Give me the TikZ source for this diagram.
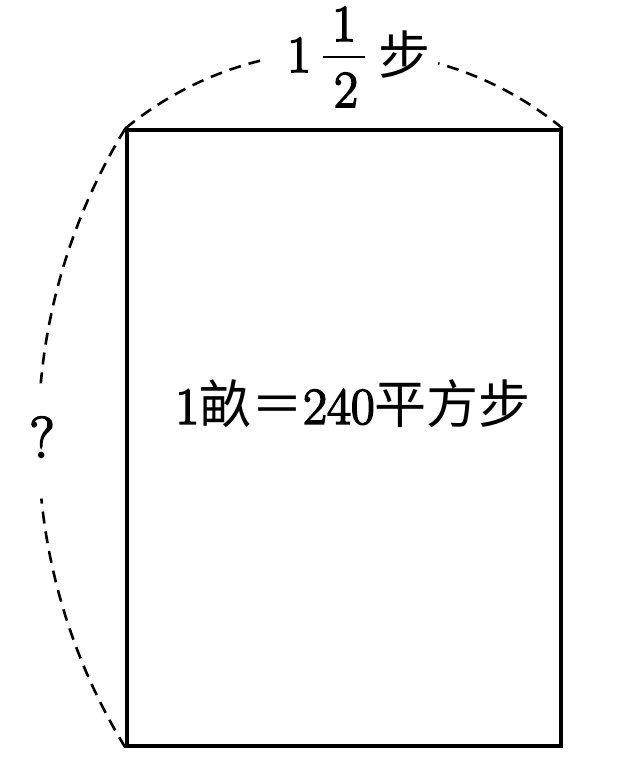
\documentclass[tikz,border=0pt]{standalone}
\usepackage{fontspec}
\newfontfamily\cjk{Noto Sans CJK TC}
\newfontfamily\heavy{Latin Modern Roman}[FakeBold=3]
\tikzset{
  box/.style={draw, line width=3.2pt, inner sep=0pt, minimum width=434pt, minimum height=616pt},
  dimarc/.style={line width=2.6pt, dash pattern=on 12pt off 8pt},
  big/.style={font=\fontsize{52}{60}\selectfont\heavy, inner sep=0pt}
}
\begin{document}
\begin{tikzpicture}[x=1pt,y=1pt]
\useasboundingbox (0,0) rectangle (623,772);
\node[box] (rect) at (344,334) {};
\node[big] (area) at (353,368) {1{\cjk 畝＝}240{\cjk 平方步}};
\node[big, anchor=base] (whole) at (299,700) {1};
\node[big, anchor=base] (num) at (344,731) {1};
\node[big, anchor=base] (den) at (346,665) {2};
\node[big] (bu) at (404.5,717) {\cjk 步};
\coordinate (barL) at (323,715);
\coordinate (barR) at (365,715);
\draw[line width=2.6pt] (barL) -- (barR);
\node[font=\fontsize{58}{64}\selectfont\heavy, inner sep=0pt] (q) at (42,335) {?};
\draw[dimarc] (rect.north west) arc[start angle=129.4, end angle=102.6, radius=342];
\draw[dimarc] (rect.north east) arc[start angle=50.6, end angle=74.3, radius=342];
\draw[dimarc] (rect.north west) arc[start angle=148.45, end angle=174.83, radius=588.7];
\draw[dimarc] (rect.south west) arc[start angle=211.55, end angle=185.75, radius=588.7];
\end{tikzpicture}
\end{document}
